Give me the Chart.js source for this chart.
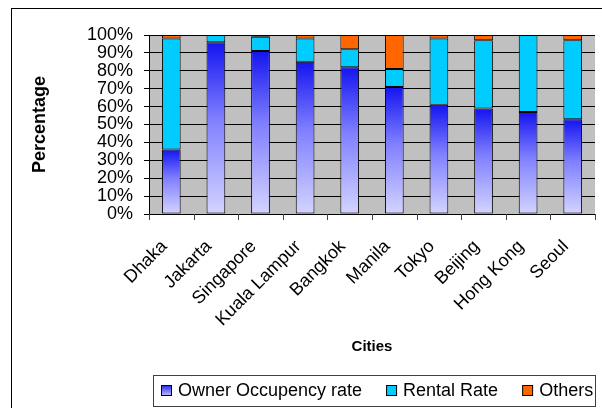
<!DOCTYPE html>
<html>
<head>
<meta charset="utf-8">
<script src="https://cdn.jsdelivr.net/npm/chart.js@4/dist/chart.umd.min.js"></script>
<style>
  html, body { margin:0; padding:0; background:#fff; overflow:hidden; }
  canvas { display:block; }
</style>
</head>
<body>
<canvas id="ownerChart" width="602" height="408"></canvas>
<script>
// ======================================
// DATA
// ======================================
const cities = ['Dhaka','Jakarta','Singapore','Kuala Lampur','Bangkok','Manila','Tokyo','Beijing','Hong Kong','Seoul'];

const ownerRate  = [36, 96, 91, 85, 82, 71, 61, 59, 57, 53];
const rentalRate = [62,  4,  8, 13, 10, 10, 37, 38, 43, 44];
const otherRate  = [ 2,  0,  1,  2,  8, 19,  2,  3,  0,  3];

const yTicks = [0,10,20,30,40,50,60,70,80,90,100];

const FONT = "'Liberation Sans', Arial, sans-serif";

// gradient for owner bars, top dark blue -> bottom lavender
function ownerFill(context){

  const chart = context.chart;
  const area = chart.chartArea;

  if(!area || context.raw === undefined){
    return '#6666ff';
  }

  const y = chart.scales.y;
  const top = y.getPixelForValue(context.raw);
  const bottom = y.getPixelForValue(0);

  const g = chart.ctx.createLinearGradient(0, top, 0, bottom);
  g.addColorStop(0, '#1414f0');
  g.addColorStop(0.45, '#8080ff');
  g.addColorStop(1, '#d4d4ff');
  return g;
}

// ======================================
// PLUGINS
// ======================================
const plotBackground = {
  id:'plotBackground',
  beforeDraw(chart){
    const {ctx, chartArea} = chart;
    ctx.save();
    ctx.fillStyle = '#c0c0c0';
    ctx.fillRect(chartArea.left, chartArea.top,
      chartArea.right - chartArea.left, chartArea.bottom - chartArea.top);
    ctx.restore();
  }
};

// small tick marks under the category axis, at category edges
const categoryTicks = {
  id:'categoryTicks',
  afterDraw(chart){
    const ctx = chart.ctx;
    const x = chart.scales.x;
    const base = chart.chartArea.bottom;
    const half = (x.getPixelForValue(1) - x.getPixelForValue(0)) / 2;

    ctx.save();
    ctx.strokeStyle = '#404040';
    ctx.lineWidth = 1;
    ctx.beginPath();
    for(let i = 0; i <= cities.length; i++){
      const px = Math.round(x.getPixelForValue(i) - half) + 0.5;
      ctx.moveTo(px, base);
      ctx.lineTo(px, base + 6);
    }
    ctx.stroke();
    ctx.restore();
  }
};

const frameAndLegend = {
  id:'frameAndLegend',
  afterDraw(chart){
    const ctx = chart.ctx;
    ctx.save();

    // outer frame
    ctx.strokeStyle = '#000';
    ctx.lineWidth = 1;
    ctx.strokeRect(11.5, 8.5, 700, 500);

    // legend box
    ctx.fillStyle = '#fff';
    ctx.fillRect(153.5, 375.5, 442, 31);
    ctx.strokeStyle = '#404040';
    ctx.strokeRect(153.5, 375.5, 442, 31);

    ctx.font = '18px ' + FONT;
    ctx.textBaseline = 'middle';
    ctx.textAlign = 'left';

    let x = 161;
    const cy = 391;

    chart.data.datasets.forEach((ds) => {

      if(ds.label === 'Owner Occupency rate'){
        const g = ctx.createLinearGradient(0, cy - 5, 0, cy + 6);
        g.addColorStop(0, '#3030f0');
        g.addColorStop(1, '#d4d4ff');
        ctx.fillStyle = g;
      }
      else{
        ctx.fillStyle = ds.backgroundColor;
      }
      ctx.fillRect(x + 0.5, cy - 5.5, 10, 10);
      ctx.strokeStyle = '#000';
      ctx.strokeRect(x + 0.5, cy - 5.5, 10, 10);

      ctx.fillStyle = '#000';
      ctx.fillText(ds.label, x + 17, cy);

      x += 17 + ctx.measureText(ds.label).width + 24;
    });

    ctx.restore();
  }
};

// ======================================
// CHART
// ======================================
const ctx = document.getElementById('ownerChart');

const ownerChart = new Chart(ctx, {

  type:'bar',

  data:{
    labels:cities,

    datasets:[
      {
        label:'Owner Occupency rate',
        data:ownerRate,
        backgroundColor:ownerFill,
        borderColor:'#000',
        borderWidth:1,
        borderSkipped:false
      },
      {
        label:'Rental Rate',
        data:rentalRate,
        backgroundColor:'#00ccff',
        borderColor:'#000',
        borderWidth:1,
        borderSkipped:false
      },
      {
        label:'Others',
        data:otherRate,
        backgroundColor:'#ff6600',
        borderColor:'#000',
        borderWidth:1,
        borderSkipped:false
      }
    ]
  },

  options:{

    responsive:false,
    animation:false,
    devicePixelRatio:1,

    barPercentage:0.42,
    categoryPercentage:1,

    layout:{
      padding:{ top:35, left:0, right:0, bottom:0 }
    },

    plugins:{
      legend:{ display:false },
      tooltip:{ enabled:false }
    },

    scales:{

      x:{
        stacked:true,
        afterFit(scale){ scale.height = 194; },
        grid:{ display:false },
        border:{ display:true, color:'#000' },
        ticks:{
          color:'#000',
          font:{ family:FONT, size:18 },
          minRotation:45,
          maxRotation:45,
          autoSkip:false,
          labelOffset:-7,
          padding:14
        },
        title:{
          display:true,
          text:'Cities',
          color:'#000',
          font:{ family:FONT, size:15, weight:'bold' },
          padding:{ top:0, bottom:52 }
        }
      },

      y:{
        stacked:true,
        min:0,
        max:100,
        afterFit(scale){ scale.width = 149; },
        afterBuildTicks(scale){
          scale.ticks = yTicks.map(v => ({ value:v }));
        },
        grid:{
          color:'#000',
          drawTicks:true,
          tickLength:5
        },
        border:{ display:true, color:'#000' },
        ticks:{
          color:'#000',
          font:{ family:FONT, size:18 },
          padding:11,
          autoSkip:false,
          callback:(v) => v + '%'
        },
        title:{
          display:true,
          text:'Percentage',
          color:'#000',
          font:{ family:FONT, size:18, weight:'bold' },
          padding:{ top:29, bottom:0 }
        }
      }
    }
  },

  plugins:[plotBackground, categoryTicks, frameAndLegend]
});
</script>
</body>
</html>
